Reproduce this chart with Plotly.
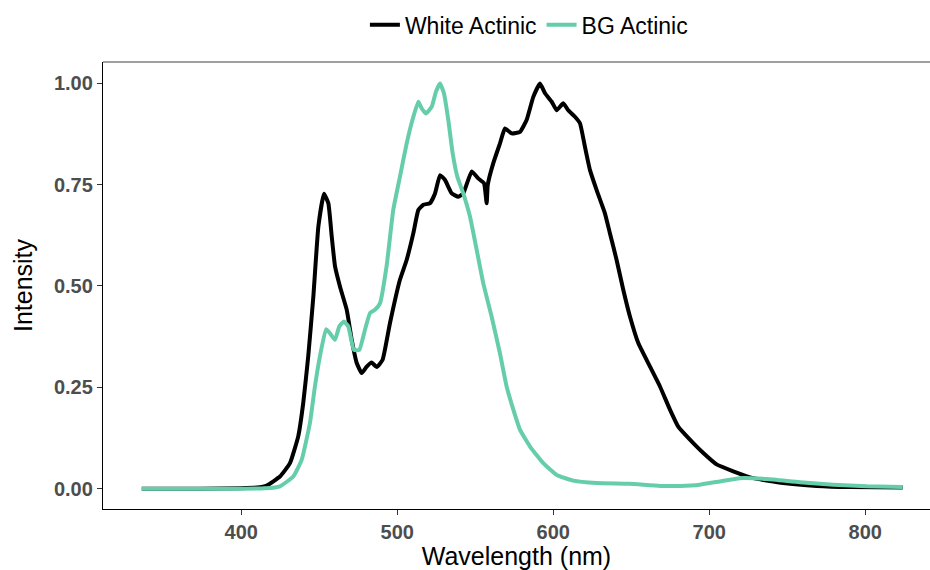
import plotly.graph_objects as go

# Wavelength (nm) and intensity values
white_nm = [336.2, 373.5, 399.2, 410.0, 416.3, 424.8, 431.2, 436.5, 439.7, 442.9, 446.2,
            449.4, 453.0, 455.8, 458.0, 460.1, 463.3, 467.6, 470.8, 474.0, 477.2,
            480.4, 483.6, 486.8, 490.6, 495.3, 501.7, 506.0, 510.3, 513.5, 516.7,
            521.0, 524.2, 527.4, 530.6, 534.9, 539.1, 542.3, 547.7, 551.9, 555.6,
            557.3, 558.0, 561.5, 565.8, 569.0, 573.3, 578.7, 582.9, 587.2, 591.5,
            594.7, 599.0, 602.2, 606.4, 609.6, 613.9, 617.1, 620.3, 623.5, 627.8,
            633.1, 636.3, 640.6, 644.9, 649.2, 654.5, 662.0, 668.4, 674.8, 680.1,
            687.6, 696.2, 704.7, 715.4, 728.2, 747.4, 768.8, 790.2, 824.0]
white_val = [0.000, 0.000, 0.001, 0.003, 0.008, 0.030, 0.063, 0.129, 0.211, 0.326, 0.474,
             0.646, 0.727, 0.704, 0.621, 0.548, 0.498, 0.441, 0.367, 0.310, 0.285,
             0.301, 0.311, 0.300, 0.318, 0.408, 0.515, 0.564, 0.630, 0.687, 0.700,
             0.704, 0.728, 0.773, 0.761, 0.728, 0.720, 0.728, 0.782, 0.765, 0.753,
             0.704, 0.749, 0.802, 0.851, 0.888, 0.876, 0.880, 0.909, 0.966, 0.999,
             0.975, 0.954, 0.933, 0.950, 0.933, 0.917, 0.901, 0.843, 0.786, 0.736,
             0.679, 0.630, 0.564, 0.490, 0.424, 0.359, 0.301, 0.252, 0.195, 0.153,
             0.121, 0.088, 0.060, 0.043, 0.026, 0.014, 0.007, 0.004, 0.003]

bg_nm = [336.2, 399.2, 415.0, 424.8, 433.3, 438.7, 444.0, 447.2, 450.4, 454.3, 456.9,
         460.1, 462.8, 465.8, 468.6, 472.2, 475.6, 479.3, 482.5, 485.7, 488.9,
         493.2, 497.4, 501.7, 506.0, 510.3, 513.5, 515.6, 518.4, 522.1, 524.8,
         527.4, 529.9, 532.7, 535.5, 538.5, 542.3, 546.6, 550.9, 555.1, 560.5,
         565.8, 570.1, 574.4, 578.7, 585.1, 593.6, 602.2, 612.8, 627.8, 648.7,
         668.4, 681.2, 694.0, 706.8, 719.6, 736.8, 758.1, 779.5, 800.9, 824.0]
bg_val = [0.000, 0.000, 0.001, 0.006, 0.030, 0.071, 0.162, 0.252, 0.326, 0.393, 0.383,
          0.367, 0.400, 0.412, 0.400, 0.342, 0.342, 0.392, 0.433, 0.441, 0.457,
          0.550, 0.687, 0.769, 0.851, 0.917, 0.954, 0.938, 0.925, 0.942, 0.979,
          0.999, 0.975, 0.909, 0.827, 0.769, 0.728, 0.671, 0.589, 0.507, 0.424,
          0.334, 0.252, 0.195, 0.145, 0.104, 0.063, 0.034, 0.020, 0.014, 0.012,
          0.007, 0.007, 0.010, 0.018, 0.026, 0.024, 0.016, 0.010, 0.006, 0.004]

x_ticks = [400, 500, 600, 700, 800]
y_ticks = [0.0, 0.25, 0.5, 0.75, 1.0]
y_ticklabels = ["0.00", "0.25", "0.50", "0.75", "1.00"]

FONT = "Liberation Sans, Arial, sans-serif"

fig = go.Figure()
fig.add_trace(go.Scatter(x=white_nm, y=white_val, mode="lines", name="White Actinic",
                         line=dict(color="#000000", width=4, shape="spline", smoothing=0.4)))
fig.add_trace(go.Scatter(x=bg_nm, y=bg_val, mode="lines", name="BG Actinic",
                         line=dict(color="#66CDAA", width=4, shape="spline", smoothing=0.4)))

fig.update_layout(
    width=930, height=570,
    margin=dict(l=103, r=0, t=62, b=61),
    paper_bgcolor="white", plot_bgcolor="white",
    font=dict(family=FONT, color="black"),
    legend=dict(orientation="h", x=0.515, y=1.083, xanchor="center", yanchor="middle",
                font=dict(size=23, family=FONT, color="black"),
                itemwidth=30, traceorder="normal", bgcolor="rgba(0,0,0,0)"),
    xaxis=dict(range=[311.35, 841.5], tickmode="array", tickvals=x_ticks,
               showgrid=False, zeroline=False, showline=True, linecolor="#000000",
               linewidth=1.3, ticks="outside", ticklen=5, tickcolor="#333333",
               tickwidth=1,
               tickfont=dict(size=20, family=FONT, color="#4D4D4D", weight="bold"),
               title=dict(text="Wavelength (nm)", standoff=8,
                          font=dict(size=25, family=FONT, color="black"))),
    yaxis=dict(range=[-0.05, 1.052], tickmode="array", tickvals=y_ticks,
               ticktext=y_ticklabels,
               showgrid=False, zeroline=False, showline=True, linecolor="#000000",
               linewidth=1.3, ticks="outside", ticklen=5, tickcolor="#333333",
               tickwidth=1,
               tickfont=dict(size=20, family=FONT, color="#4D4D4D", weight="bold"),
               title=dict(text="Intensity", standoff=14,
                          font=dict(size=25, family=FONT, color="black"))),
    shapes=[dict(type="line", xref="paper", yref="paper", x0=0, x1=1, y0=1, y1=1,
                 line=dict(color="#7F7F7F", width=1.5))],
)

fig.write_html("out.html")
